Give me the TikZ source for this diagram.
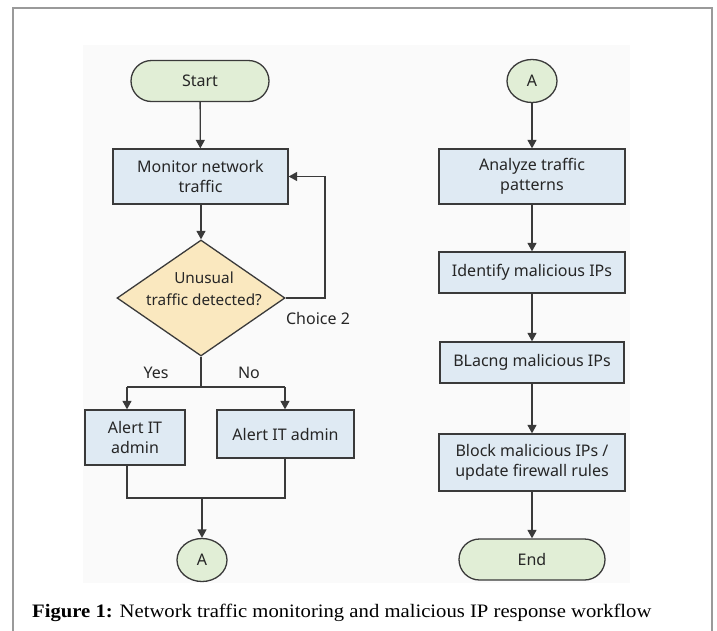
\documentclass[tikz,border=0pt]{standalone}
\usepackage{fontspec}
\setmainfont{Liberation Serif}
\newfontfamily\diagfont{Noto Sans}
\usetikzlibrary{shapes.geometric,arrows.meta,calc}
\definecolor{termfill}{HTML}{E1EED6}
\definecolor{procfill}{HTML}{DFEAF3}
\definecolor{decfill}{HTML}{FAE8BF}
\definecolor{edge}{HTML}{3A3A3A}
\definecolor{framec}{HTML}{9A9A9A}
\definecolor{innerbg}{HTML}{FAFAFA}
\begin{document}
\begin{tikzpicture}[x=1pt,y=-1pt,
  base/.style={draw=edge, line width=1.3pt, font=\diagfont\fontsize{16}{19.5}\selectfont, text=black!85, align=center, inner sep=0pt},
  term/.style={base, fill=termfill, rounded corners=20.5pt, minimum height=41pt},
  proc/.style={base, fill=procfill, minimum height=41pt},
  dec/.style={base, fill=decfill, diamond, minimum width=168pt, minimum height=116pt},
  conn/.style={base, fill=termfill, ellipse, minimum width=50pt, minimum height=43pt},
  lbl/.style={font=\diagfont\fontsize{16}{19.5}\selectfont, text=black!85, inner sep=0pt},
  line/.style={draw=edge, line width=1.3pt},
  arr/.style={line, -{Triangle[length=8.5pt,width=9pt]}}
]
\useasboundingbox (0,0) rectangle (717,630);
\fill[innerbg] (83,45) rectangle (630,583);
\draw[framec, line width=2pt] (13,700) -- (13,8) -- (712,8) -- (712,700);

% left column
\node[term, minimum width=138pt] (start) at (200,81) {Start};
\node[proc, minimum width=175pt, minimum height=55pt] (mon) at (200.5,176.5) {Monitor network\\traffic};
\node[dec] (dia) at (201,298) {};
\node[lbl, align=center, font=\diagfont\fontsize{15.3}{22}\selectfont] (diat) at (204,289) {Unusual\\traffic detected?};
\node[proc, minimum width=100pt, minimum height=55pt] (al1) at (135,437.5) {Alert IT\\admin};
\node[proc, minimum width=137pt, minimum height=48pt] (al2) at (285.5,434) {Alert IT admin};
\node[conn] (a1) at (202,560) {A};

\coordinate (lp) at (325,298);
\coordinate (sp) at (201,387);
\coordinate (spl) at (127,387);
\coordinate (spr) at (285,387);
\coordinate (jl) at (127,498);
\coordinate (jr) at (285,498);
\coordinate (mg) at (202,498);

\draw[arr] (start) -- (mon);
\draw[arr] (mon.south -| dia.north) -- (dia.north);
\draw[arr] (dia.east) -- (lp) |- (mon.east);
\draw[line] (dia.south) -- (sp);
\draw[line] (spl) -- (spr);
\draw[arr] (spl) -- (al1.north -| spl);
\draw[arr] (spr) -- (al2.north -| spr);
\draw[line] (al1.south -| jl) -- (jl) -- (jr) -- (al2.south -| jr);
\draw[arr] (mg) -- (a1.north);

\node[lbl] (ch2) at (318,318) {Choice 2};
\node[lbl] (yes) at (156,373) {Yes};
\node[lbl] (no) at (249,373) {No};

% right column
\node[conn] (a2) at (532,81) {A};
\node[proc, minimum width=186pt, minimum height=55pt] (ana) at (532,176.5) {Analyze traffic\\patterns};
\node[proc, minimum width=186pt] (idf) at (532,272.5) {Identify malicious IPs};
\node[proc, minimum width=184pt] (bla) at (532,362.5) {BLacng malicious IPs};
\node[proc, minimum width=186pt, minimum height=57pt] (blk) at (532,462.5) {Block malicious IPs /\\update firewall rules};
\node[term, minimum width=146pt] (end) at (532,559.5) {End};

\draw[arr] (a2) -- (ana);
\draw[arr] (ana) -- (idf);
\draw[arr] (idf) -- (bla);
\draw[arr] (bla) -- (blk);
\draw[arr] (blk) -- (end);

\node[anchor=base west, inner sep=0pt, font=\fontsize{19}{22}\selectfont] (cap) at (32,617) {\scalebox{1.088}[1]{\textbf{Figure 1:} Network traffic monitoring and malicious IP response workflow}};
\end{tikzpicture}
\end{document}
